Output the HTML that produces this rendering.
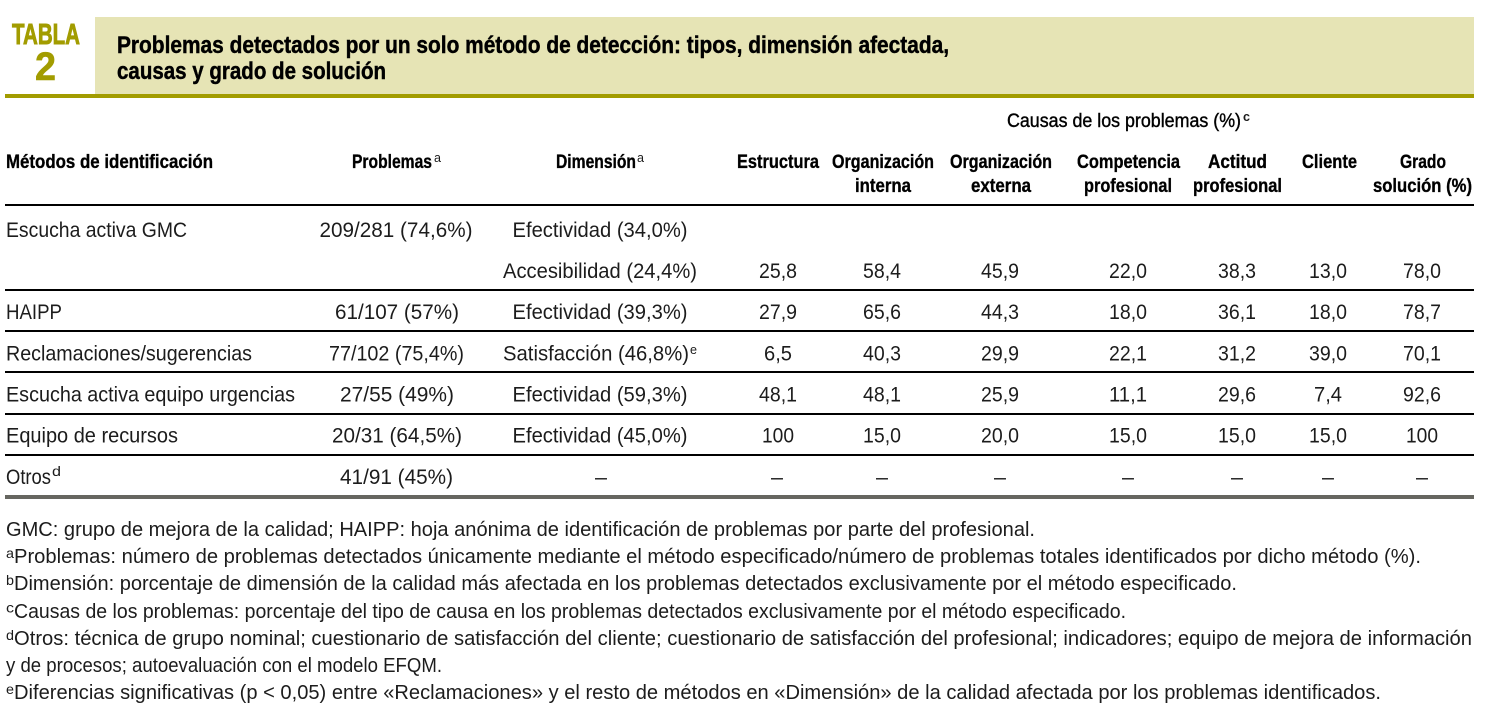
<!DOCTYPE html>
<html lang="es">
<head>
<meta charset="utf-8">
<title>Tabla 2</title>
<style>
html,body{margin:0;padding:0;background:#fff;width:1488px;height:722px;overflow:hidden}
svg{display:block}
text{font-family:"Liberation Sans",Arial,sans-serif;fill:#1c1c1c;font-size:21.5px}
.t{font-weight:bold;font-size:24px;fill:#000;stroke:#000;stroke-width:.45px}
.h{font-weight:bold;font-size:19.5px;fill:#000;stroke:#000;stroke-width:.35px}
.n{font-size:20.5px}
.s{font-size:13px}
.c{text-anchor:middle}
.r{fill:#000}
</style>
</head>
<body>
<svg width="1488" height="722" viewBox="0 0 1488 722">
<rect x="95" y="17" width="1379" height="78" fill="#e6e4b5"/>
<rect x="5" y="94" width="1469" height="4" fill="#a29c00"/>
<text x="12" y="44" textLength="68" lengthAdjust="spacingAndGlyphs" style="font-size:29px;font-weight:bold;fill:#a29c00;stroke:#a29c00;stroke-width:.9px">TABLA</text>
<text x="35" y="80" textLength="21" lengthAdjust="spacingAndGlyphs" style="font-size:40px;font-weight:bold;fill:#a29c00;stroke:#a29c00;stroke-width:.6px">2</text>
<text class="t" x="117" y="53" textLength="832" lengthAdjust="spacingAndGlyphs">Problemas detectados por un solo método de detección: tipos, dimensión afectada,</text>
<text class="t" x="117" y="79" textLength="269" lengthAdjust="spacingAndGlyphs">causas y grado de solución</text>

<text x="1007" y="127" textLength="234" lengthAdjust="spacingAndGlyphs" style="font-size:19.5px;fill:#000;stroke:#000;stroke-width:.4px">Causas de los problemas (%)</text>
<text x="1243" y="121" textLength="7" lengthAdjust="spacingAndGlyphs" class="s" style="font-weight:bold">c</text>

<text class="h" x="6" y="168" textLength="207" lengthAdjust="spacingAndGlyphs">Métodos de identificación</text>
<text class="h" x="352" y="168" textLength="80" lengthAdjust="spacingAndGlyphs">Problemas</text>
<text class="s" x="434" y="162" textLength="7" lengthAdjust="spacingAndGlyphs">a</text>
<text class="h" x="556" y="168" textLength="80" lengthAdjust="spacingAndGlyphs">Dimensión</text>
<text class="s" x="637" y="162" textLength="7" lengthAdjust="spacingAndGlyphs">a</text>
<text class="h" x="737" y="168" textLength="82" lengthAdjust="spacingAndGlyphs">Estructura</text>
<text class="h" x="832" y="168" textLength="102" lengthAdjust="spacingAndGlyphs">Organización</text>
<text class="h" x="855" y="192" textLength="56" lengthAdjust="spacingAndGlyphs">interna</text>
<text class="h" x="950" y="168" textLength="102" lengthAdjust="spacingAndGlyphs">Organización</text>
<text class="h" x="971" y="192" textLength="60" lengthAdjust="spacingAndGlyphs">externa</text>
<text class="h" x="1077" y="168" textLength="103" lengthAdjust="spacingAndGlyphs">Competencia</text>
<text class="h" x="1084" y="192" textLength="88" lengthAdjust="spacingAndGlyphs">profesional</text>
<text class="h" x="1208" y="168" textLength="59" lengthAdjust="spacingAndGlyphs">Actitud</text>
<text class="h" x="1193" y="192" textLength="89" lengthAdjust="spacingAndGlyphs">profesional</text>
<text class="h" x="1302" y="168" textLength="55" lengthAdjust="spacingAndGlyphs">Cliente</text>
<text class="h" x="1400" y="168" textLength="46" lengthAdjust="spacingAndGlyphs">Grado</text>
<text class="h" x="1373" y="192" textLength="99" lengthAdjust="spacingAndGlyphs">solución (%)</text>

<rect class="r" x="5" y="204" width="1469" height="2"/>
<rect class="r" x="5" y="289" width="1469" height="2"/>
<rect class="r" x="5" y="330" width="1469" height="2"/>
<rect class="r" x="5" y="371" width="1469" height="2"/>
<rect class="r" x="5" y="413" width="1469" height="2"/>
<rect class="r" x="5" y="454" width="1469" height="2"/>
<rect x="5" y="495" width="1469" height="4" fill="#666660"/>

<g>
<text x="6" y="237" textLength="181" lengthAdjust="spacingAndGlyphs">Escucha activa GMC</text>
<text class="c" x="396" y="237" textLength="153" lengthAdjust="spacingAndGlyphs">209/281 (74,6%)</text>
<text class="c" x="600" y="237" textLength="175" lengthAdjust="spacingAndGlyphs">Efectividad (34,0%)</text>
<text class="c" x="600" y="278" textLength="194" lengthAdjust="spacingAndGlyphs">Accesibilidad (24,4%)</text>
<text class="c" x="778" y="278" textLength="38" lengthAdjust="spacingAndGlyphs">25,8</text>
<text class="c" x="882" y="278" textLength="38" lengthAdjust="spacingAndGlyphs">58,4</text>
<text class="c" x="1000" y="278" textLength="38" lengthAdjust="spacingAndGlyphs">45,9</text>
<text class="c" x="1128" y="278" textLength="38" lengthAdjust="spacingAndGlyphs">22,0</text>
<text class="c" x="1237" y="278" textLength="38" lengthAdjust="spacingAndGlyphs">38,3</text>
<text class="c" x="1328" y="278" textLength="38" lengthAdjust="spacingAndGlyphs">13,0</text>
<text class="c" x="1422" y="278" textLength="38" lengthAdjust="spacingAndGlyphs">78,0</text>
</g>
<g>
<text x="6" y="319" textLength="56" lengthAdjust="spacingAndGlyphs">HAIPP</text>
<text class="c" x="397" y="319" textLength="124" lengthAdjust="spacingAndGlyphs">61/107 (57%)</text>
<text class="c" x="600" y="319" textLength="175" lengthAdjust="spacingAndGlyphs">Efectividad (39,3%)</text>
<text class="c" x="778" y="319" textLength="38" lengthAdjust="spacingAndGlyphs">27,9</text>
<text class="c" x="882" y="319" textLength="38" lengthAdjust="spacingAndGlyphs">65,6</text>
<text class="c" x="1000" y="319" textLength="38" lengthAdjust="spacingAndGlyphs">44,3</text>
<text class="c" x="1128" y="319" textLength="38" lengthAdjust="spacingAndGlyphs">18,0</text>
<text class="c" x="1237" y="319" textLength="38" lengthAdjust="spacingAndGlyphs">36,1</text>
<text class="c" x="1328" y="319" textLength="38" lengthAdjust="spacingAndGlyphs">18,0</text>
<text class="c" x="1422" y="319" textLength="38" lengthAdjust="spacingAndGlyphs">78,7</text>
</g>
<g>
<text x="6" y="360.5" textLength="246" lengthAdjust="spacingAndGlyphs">Reclamaciones/sugerencias</text>
<text class="c" x="396.5" y="360.5" textLength="135" lengthAdjust="spacingAndGlyphs">77/102 (75,4%)</text>
<text x="503" y="360.5" textLength="186" lengthAdjust="spacingAndGlyphs">Satisfacción (46,8%)</text>
<text class="s" x="690" y="354" textLength="7" lengthAdjust="spacingAndGlyphs">e</text>
<text class="c" x="778" y="360.5" textLength="28" lengthAdjust="spacingAndGlyphs">6,5</text>
<text class="c" x="882" y="360.5" textLength="38" lengthAdjust="spacingAndGlyphs">40,3</text>
<text class="c" x="1000" y="360.5" textLength="38" lengthAdjust="spacingAndGlyphs">29,9</text>
<text class="c" x="1128" y="360.5" textLength="38" lengthAdjust="spacingAndGlyphs">22,1</text>
<text class="c" x="1237" y="360.5" textLength="38" lengthAdjust="spacingAndGlyphs">31,2</text>
<text class="c" x="1328" y="360.5" textLength="38" lengthAdjust="spacingAndGlyphs">39,0</text>
<text class="c" x="1422" y="360.5" textLength="38" lengthAdjust="spacingAndGlyphs">70,1</text>
</g>
<g>
<text x="6" y="401.5" textLength="289" lengthAdjust="spacingAndGlyphs">Escucha activa equipo urgencias</text>
<text class="c" x="397" y="401.5" textLength="114" lengthAdjust="spacingAndGlyphs">27/55 (49%)</text>
<text class="c" x="600" y="401.5" textLength="175" lengthAdjust="spacingAndGlyphs">Efectividad (59,3%)</text>
<text class="c" x="778" y="401.5" textLength="38" lengthAdjust="spacingAndGlyphs">48,1</text>
<text class="c" x="882" y="401.5" textLength="38" lengthAdjust="spacingAndGlyphs">48,1</text>
<text class="c" x="1000" y="401.5" textLength="38" lengthAdjust="spacingAndGlyphs">25,9</text>
<text class="c" x="1128" y="401.5" textLength="38" lengthAdjust="spacingAndGlyphs">11,1</text>
<text class="c" x="1237" y="401.5" textLength="38" lengthAdjust="spacingAndGlyphs">29,6</text>
<text class="c" x="1328" y="401.5" textLength="28" lengthAdjust="spacingAndGlyphs">7,4</text>
<text class="c" x="1422" y="401.5" textLength="38" lengthAdjust="spacingAndGlyphs">92,6</text>
</g>
<g>
<text x="6" y="442.5" textLength="172" lengthAdjust="spacingAndGlyphs">Equipo de recursos</text>
<text class="c" x="397" y="442.5" textLength="130" lengthAdjust="spacingAndGlyphs">20/31 (64,5%)</text>
<text class="c" x="600" y="442.5" textLength="175" lengthAdjust="spacingAndGlyphs">Efectividad (45,0%)</text>
<text class="c" x="778" y="442.5" textLength="32" lengthAdjust="spacingAndGlyphs">100</text>
<text class="c" x="882" y="442.5" textLength="38" lengthAdjust="spacingAndGlyphs">15,0</text>
<text class="c" x="1000" y="442.5" textLength="38" lengthAdjust="spacingAndGlyphs">20,0</text>
<text class="c" x="1128" y="442.5" textLength="38" lengthAdjust="spacingAndGlyphs">15,0</text>
<text class="c" x="1237" y="442.5" textLength="38" lengthAdjust="spacingAndGlyphs">15,0</text>
<text class="c" x="1328" y="442.5" textLength="38" lengthAdjust="spacingAndGlyphs">15,0</text>
<text class="c" x="1422" y="442.5" textLength="32" lengthAdjust="spacingAndGlyphs">100</text>
</g>
<g>
<text x="6" y="484" textLength="45" lengthAdjust="spacingAndGlyphs">Otros</text>
<text x="52" y="476" textLength="9" lengthAdjust="spacingAndGlyphs" style="font-size:14px">d</text>
<text class="c" x="396.5" y="484" textLength="113" lengthAdjust="spacingAndGlyphs">41/91 (45%)</text>
<text class="c" x="601" y="484" textLength="12" lengthAdjust="spacingAndGlyphs">–</text>
<text class="c" x="777" y="484" textLength="12" lengthAdjust="spacingAndGlyphs">–</text>
<text class="c" x="882" y="484" textLength="12" lengthAdjust="spacingAndGlyphs">–</text>
<text class="c" x="1000" y="484" textLength="12" lengthAdjust="spacingAndGlyphs">–</text>
<text class="c" x="1128" y="484" textLength="12" lengthAdjust="spacingAndGlyphs">–</text>
<text class="c" x="1237" y="484" textLength="12" lengthAdjust="spacingAndGlyphs">–</text>
<text class="c" x="1328" y="484" textLength="12" lengthAdjust="spacingAndGlyphs">–</text>
<text class="c" x="1422" y="484" textLength="12" lengthAdjust="spacingAndGlyphs">–</text>
</g>

<g>
<text class="n" x="6" y="536" textLength="1029" lengthAdjust="spacingAndGlyphs">GMC: grupo de mejora de la calidad; HAIPP: hoja anónima de identificación de problemas por parte del profesional.</text>
<text x="6" y="558" textLength="8" lengthAdjust="spacingAndGlyphs" style="font-size:14px">a</text>
<text class="n" x="14" y="563" textLength="1407" lengthAdjust="spacingAndGlyphs">Problemas: número de problemas detectados únicamente mediante el método especificado/número de problemas totales identificados por dicho método (%).</text>
<text x="6" y="585" textLength="8" lengthAdjust="spacingAndGlyphs" style="font-size:14px">b</text>
<text class="n" x="14" y="590" textLength="1223" lengthAdjust="spacingAndGlyphs">Dimensión: porcentaje de dimensión de la calidad más afectada en los problemas detectados exclusivamente por el método especificado.</text>
<text x="6" y="612.5" textLength="8" lengthAdjust="spacingAndGlyphs" style="font-size:14px">c</text>
<text class="n" x="14" y="618" textLength="1112" lengthAdjust="spacingAndGlyphs">Causas de los problemas: porcentaje del tipo de causa en los problemas detectados exclusivamente por el método especificado.</text>
<text x="6" y="640" textLength="8" lengthAdjust="spacingAndGlyphs" style="font-size:14px">d</text>
<text class="n" x="14" y="645" textLength="1458" lengthAdjust="spacingAndGlyphs">Otros: técnica de grupo nominal; cuestionario de satisfacción del cliente; cuestionario de satisfacción del profesional; indicadores; equipo de mejora de información</text>
<text class="n" x="6" y="672" textLength="436" lengthAdjust="spacingAndGlyphs">y de procesos; autoevaluación con el modelo EFQM.</text>
<text x="6" y="694" textLength="8" lengthAdjust="spacingAndGlyphs" style="font-size:14px">e</text>
<text class="n" x="14" y="699" textLength="1367" lengthAdjust="spacingAndGlyphs">Diferencias significativas (p &lt; 0,05) entre «Reclamaciones» y el resto de métodos en «Dimensión» de la calidad afectada por los problemas identificados.</text>
</g>
</svg>
</body>
</html>
